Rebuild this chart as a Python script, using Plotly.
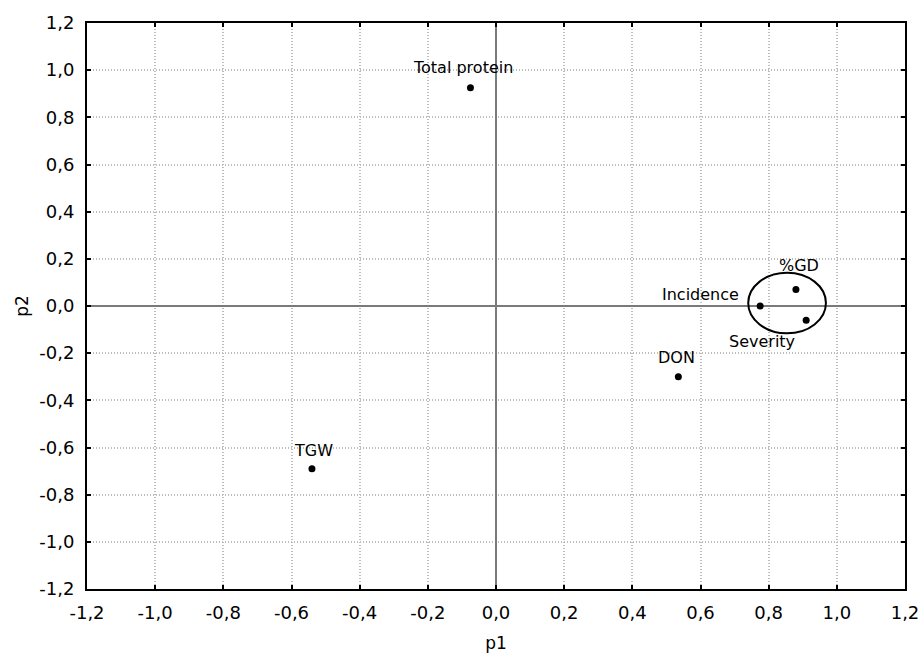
import plotly.graph_objects as go

labels = ["Total protein", "TGW", "DON", "Incidence", "%GD", "Severity"]
p1 = [-0.075, -0.54, 0.535, 0.775, 0.88, 0.91]
p2 = [0.925, -0.69, -0.30, 0.0, 0.07, -0.06]

tick_vals = [-1.2, -1.0, -0.8, -0.6, -0.4, -0.2, 0.0, 0.2, 0.4, 0.6, 0.8, 1.0, 1.2]
tick_text = ["-1,2", "-1,0", "-0,8", "-0,6", "-0,4", "-0,2", "0,0", "0,2", "0,4", "0,6", "0,8", "1,0", "1,2"]

# label offsets in pixels (x, y)
label_shift = {
    "Total protein": (-7, 20, "center"),
    "TGW": (2, 18, "center"),
    "DON": (-2, 19, "center"),
    "Incidence": (-19, 12, "right"),
    "%GD": (3, 24, "center"),
    "Severity": (-44, -21, "center"),
}

# ellipse around cluster
ell_x0, ell_x1, ell_y0, ell_y1 = 0.74, 0.968, -0.116, 0.141

FONT = "DejaVu Sans, Liberation Sans, Arial"

fig = go.Figure()
fig.add_trace(go.Scatter(
    x=p1, y=p2, mode="markers",
    marker=dict(color="black", size=7),
    showlegend=False, hoverinfo="skip"))

for name, x, y in zip(labels, p1, p2):
    dx, dy, anchor = label_shift[name]
    fig.add_annotation(x=x, y=y, text=name, showarrow=False,
                       xshift=dx, yshift=dy, xanchor=anchor, yanchor="middle",
                       font=dict(family=FONT, size=16, color="black"))

fig.add_shape(type="circle", xref="x", yref="y",
              x0=ell_x0, x1=ell_x1, y0=ell_y0, y1=ell_y1,
              line=dict(color="black", width=2))

axis_common = dict(
    range=[-1.2, 1.2], tickvals=tick_vals, ticktext=tick_text,
    showgrid=True, gridcolor="#bdbdbd", griddash="1px,2px", gridwidth=1.5,
    zeroline=True, zerolinecolor="#7a7a7a", zerolinewidth=2,
    showline=True, linecolor="black", linewidth=2, mirror="ticks",
    ticks="inside", ticklen=4, tickcolor="black", tickwidth=2,
    tickfont=dict(family=FONT, size=18, color="black"),
)

fig.update_xaxes(**axis_common, ticklabelstandoff=6,
                 title=dict(text="p1", font=dict(family=FONT, size=17, color="black"), standoff=19))
fig.update_yaxes(**axis_common, ticklabelstandoff=7,
                 title=dict(text="p2", font=dict(family=FONT, size=17, color="black"), standoff=6))

fig.update_layout(
    width=921, height=653,
    margin=dict(l=87, r=16, t=23, b=64, autoexpand=False),
    plot_bgcolor="white", paper_bgcolor="white",
)

fig.write_html("out.html",
               config={"displayModeBar": False},
               post_script="document.body.style.margin='0';document.body.style.overflow='hidden';")
